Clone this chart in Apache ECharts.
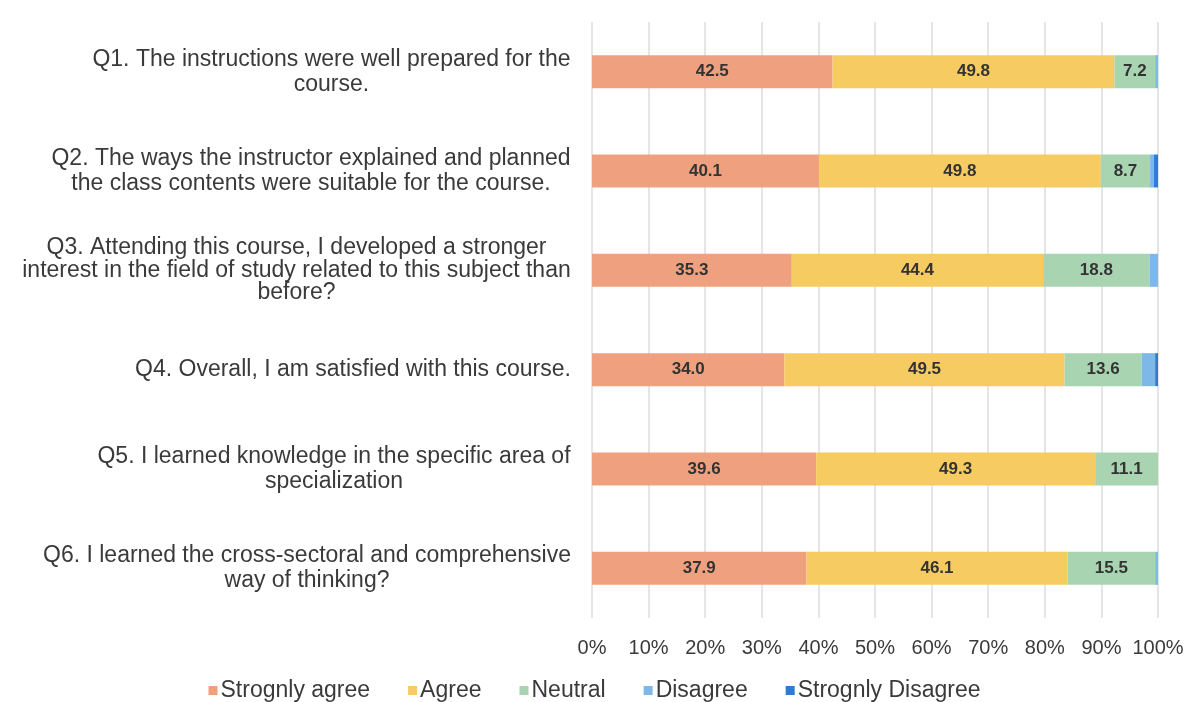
<!DOCTYPE html>
<html>
<head>
<meta charset="utf-8">
<script src="https://cdn.jsdelivr.net/npm/echarts@6/dist/echarts.min.js"></script>
<style>html,body{margin:0;padding:0;background:#fff}#c{width:1189px;height:702px}</style>
</head>
<body>
<div id="c"></div>
<script>
const categories = [
  "Q1. The instructions were well prepared for the\ncourse.",
  "Q2. The ways the instructor explained and planned\nthe class contents were suitable for the course.",
  "Q3. Attending this course, I developed a stronger\ninterest in the field of study related to this subject than\nbefore?",
  "Q4. Overall, I am satisfied with this course.",
  "Q5. I learned knowledge in the specific area of\nspecialization",
  "Q6. I learned the cross-sectoral and comprehensive\nway of thinking?"
];
const seriesNames = ["Strognly agree", "Agree", "Neutral", "Disagree", "Strognly Disagree"];
const stronglyAgree = [42.5, 40.1, 35.3, 34.0, 39.6, 37.9];
const agree = [49.8, 49.8, 44.4, 49.5, 49.3, 46.1];
const neutral = [7.2, 8.7, 18.8, 13.6, 11.1, 15.5];
const disagree = [0.5, 0.7, 1.5, 2.4, 0, 0.5];
const stronglyDisagree = [0, 0.7, 0, 0.5, 0, 0];
const xTicks = [0, 10, 20, 30, 40, 50, 60, 70, 80, 90, 100];

const colors = ["#EFA17F", "#F6CB62", "#A9D4B2", "#7DB8E8", "#2F7AD4"];
const FONT = "Liberation Sans";
const LABEL_SIZE = 23;
const TEXT = '#3a3a3a';

// measure label widths so each line is centred inside its block
const cv = document.createElement('canvas').getContext('2d');
cv.font = LABEL_SIZE + 'px "' + FONT + '"';
const rich = {};
const formatted = {};
categories.forEach((c, i) => {
  const lines = c.split('\n');
  const w = Math.ceil(Math.max(...lines.map(l => cv.measureText(l).width))) + 2;
  const key = 'q' + i;
  rich[key] = {width: w, align: 'center', fontSize: LABEL_SIZE, fontFamily: FONT, color: TEXT,
               lineHeight: lines.length > 2 ? 22.5 : 25};
  formatted[c] = lines.map(l => '{' + key + '|' + l + '}').join('\n');
});

const data = [stronglyAgree, agree, neutral, disagree, stronglyDisagree];
const series = data.map((arr, i) => ({
  name: seriesNames[i],
  type: 'bar',
  stack: 'total',
  barWidth: 33,
  itemStyle: {color: colors[i]},
  label: {
    show: i < 3,
    position: 'inside',
    formatter: p => p.value.toFixed(1),
    color: '#333',
    fontWeight: 'bold',
    fontSize: 17,
    fontFamily: FONT
  },
  emphasis: {disabled: true},
  data: arr
}));

const chart = echarts.init(document.getElementById('c'));
chart.setOption({
  animation: false,
  grid: {left: 592, right: 31, top: 22, bottom: 84, containLabel: false},
  legend: {
    top: 674,
    left: 'center',
    itemWidth: 9,
    itemHeight: 9,
    itemGap: 38,
    icon: 'rect',
    textStyle: {fontSize: 23, fontFamily: FONT, color: TEXT, padding: [0, 0, 0, -2]},
    data: seriesNames
  },
  xAxis: {
    type: 'value',
    min: 0,
    max: 100,
    interval: 10,
    axisLine: {show: false},
    axisTick: {show: false},
    splitLine: {show: true, lineStyle: {color: '#dcdcdc', width: 1.5}},
    axisLabel: {
      formatter: v => xTicks.includes(v) ? v + '%' : '',
      fontSize: 20,
      fontFamily: FONT,
      color: TEXT,
      margin: 20
    }
  },
  yAxis: {
    type: 'category',
    inverse: true,
    data: categories,
    axisLine: {show: false},
    axisTick: {show: false},
    axisLabel: {
      margin: 20,
      align: 'right',
      formatter: v => formatted[v],
      rich: rich
    }
  },
  series: series
});
</script>
</body>
</html>
